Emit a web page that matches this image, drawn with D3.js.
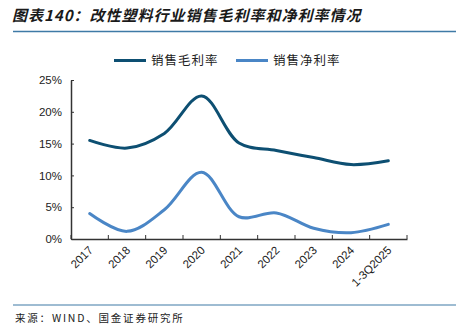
<!DOCTYPE html>
<html><head><meta charset="utf-8">
<script src="https://cdn.jsdelivr.net/npm/d3@7"></script>
<style>body{margin:0;background:#fff;}svg{display:block;}</style>
</head><body>
<svg id="c" width="456" height="332"></svg>
<script>
const categories = ["2017","2018","2019","2020","2021","2022","2023","2024","1-3Q2025"];
const grossMargin = [15.5, 14.3, 16.6, 22.5, 15.1, 13.9, 12.8, 11.7, 12.3];
const netMargin = [4.0, 1.2, 4.6, 10.5, 3.5, 4.1, 1.7, 1.0, 2.3];
const yTicks = [0, 5, 10, 15, 20, 25];
const seriesNames = ["销售毛利率", "销售净利率"];
const colors = ["#0d4f72", "#4a86c6"];

const svg = d3.select("#c");
const cjk = "'Noto Sans CJK SC', sans-serif";
const latin = "'Liberation Sans', Arial, sans-serif";

// title
svg.append("text").attr("x", 12).attr("y", 21)
  .attr("font-family", cjk).attr("font-size", 15).attr("font-weight", "bold")
  .attr("font-style", "italic").attr("fill", "#1a1a1a").attr("letter-spacing", 1)
  .text("图表140：改性塑料行业销售毛利率和净利率情况");
svg.append("line").attr("x1", 13).attr("x2", 456).attr("y1", 31.5).attr("y2", 31.5)
  .attr("stroke", "#3f7aa6").attr("stroke-width", 1.5);

// scales
const x = d3.scaleBand().domain(categories).range([71, 407]);
const y = d3.scaleLinear().domain([0, 25]).range([239, 80]);

// axes
const yAxis = d3.axisLeft(y).tickValues(yTicks).tickFormat(d => d + "%").tickSizeInner(-3).tickSizeOuter(0).tickPadding(9);
const gy = svg.append("g").attr("transform", "translate(71,0)").call(yAxis);
const xAxis = d3.axisBottom(x).tickSizeInner(-4).tickSizeOuter(0).tickFormat("");
const gx = svg.append("g").attr("transform", "translate(0,239)").call(xAxis);
gx.selectAll(".tick").remove();
const edges = categories.map((c) => x(c) + x.bandwidth()).concat([x(categories[0])]);
gx.selectAll("line.edge").data(edges).join("line").attr("class", "edge")
  .attr("x1", d => d).attr("x2", d => d).attr("y1", 0).attr("y2", -4)
  .attr("stroke", "#333").attr("stroke-width", 1);
[gy, gx].forEach(g => {
  g.select(".domain").attr("stroke", "#333").attr("stroke-width", 1.5);
  g.selectAll(".tick line").attr("stroke", "#333");
  g.selectAll("text").attr("font-family", latin).attr("font-size", 11.5).attr("fill", "#222");
});

// x labels
svg.append("g").selectAll("text").data(categories).join("text")
  .attr("transform", d => `translate(${x(d) + x.bandwidth() / 2 + 4},${251}) rotate(-45)`)
  .attr("text-anchor", "end").attr("font-family", latin).attr("font-size", 11.5).attr("fill", "#222")
  .text(d => d);

// lines
const line = d3.line().x((d, i) => x(categories[i]) + x.bandwidth() / 2).y(d => y(d)).curve(d3.curveCatmullRom.alpha(0.5));
[grossMargin, netMargin].forEach((s, k) => {
  svg.append("path").datum(s).attr("d", line).attr("fill", "none")
    .attr("stroke", colors[k]).attr("stroke-width", 3).attr("stroke-linecap", "round");
});

// legend
const legX = [114, 236];
seriesNames.forEach((n, k) => {
  svg.append("line").attr("x1", legX[k]).attr("x2", legX[k] + 32).attr("y1", 60.5).attr("y2", 60.5)
    .attr("stroke", colors[k]).attr("stroke-width", 3);
  svg.append("text").attr("x", legX[k] + 37).attr("y", 65).attr("font-family", cjk)
    .attr("font-size", 12.5).attr("letter-spacing", 1).attr("fill", "#222").text(n);
});

// bottom
svg.append("line").attr("x1", 13).attr("x2", 456).attr("y1", 305).attr("y2", 305)
  .attr("stroke", "#3f7aa6").attr("stroke-width", 1.2);
svg.append("text").attr("x", 15).attr("y", 322).attr("font-family", cjk).attr("font-size", 10.5)
  .attr("letter-spacing", 1.8).attr("fill", "#222").text("来源：WIND、国金证券研究所");
</script>
</body></html>
